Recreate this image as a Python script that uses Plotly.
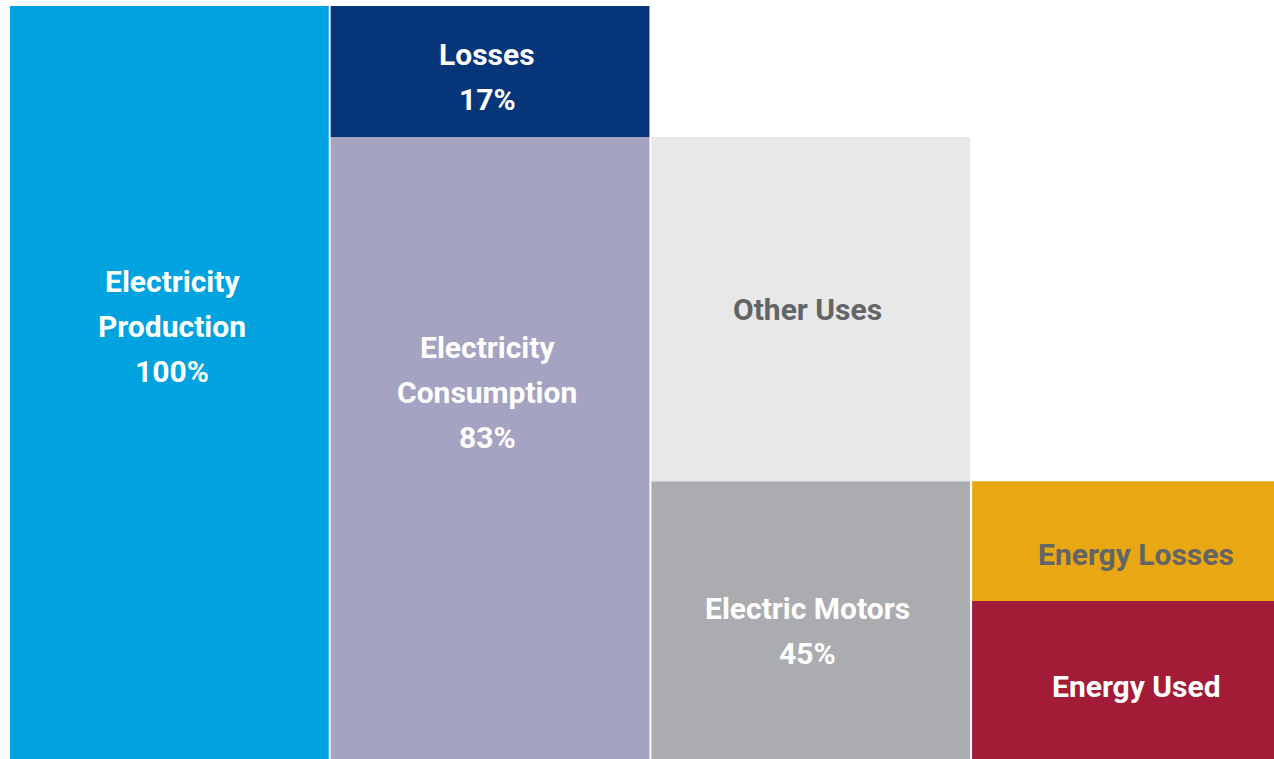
import plotly.graph_objects as go

# Data
names = ["Electricity Production", "Electricity Consumption", "Losses",
         "Electric Motors", "Other Uses", "Energy Used", "Energy Losses"]
cols = [0, 1, 1, 2, 2, 3, 3]
values = [100, 82.6, 17.4, 36.9, 45.7, 21.0, 15.9]
labels = [
    "Electricity<br>Production<br>100%",
    "Electricity<br>Consumption<br>83%",
    "Losses<br>17%",
    "Electric Motors<br>45%",
    "Other Uses",
    "Energy Used",
    "Energy Losses",
]

# Styles
colors = ["#00A3E0", "#A4A3C1", "#06357A", "#ABACAF", "#E8E8E8", "#A21C38", "#E8A713"]
text_colors = ["white", "white", "white", "white", "#636466", "white", "#636466"]
label_frac = [0.575, 0.59, 0.46, 0.46, 0.5, 0.46, 0.39]
label_dx = [3, -3, -3, -3, -3, 5, 5]
FONT = "Roboto, Liberation Sans Narrow, Arial Narrow, sans-serif"
LINE_GAP = 45

fig = go.Figure()
bases = {}
for i, (name, c, v) in enumerate(zip(names, cols, values)):
    b = bases.get(c, 0)
    fig.add_trace(go.Bar(
        x=[c], y=[v], base=[b], name=name,
        marker=dict(color=colors[i], line=dict(width=0)),
        width=0.994, showlegend=False, hoverinfo="name+y",
    ))
    lines = labels[i].split("<br>")
    n = len(lines)
    for k, line in enumerate(lines):
        fig.add_annotation(
            x=c, y=b + v * label_frac[i], text=line, showarrow=False,
            xshift=label_dx[i], yshift=-(k - (n - 1) / 2) * LINE_GAP,
            font=dict(family=FONT, size=30, color=text_colors[i], weight="bold"),
            align="center",
        )
    bases[c] = b + v

pitch = 320.7
left = 9
W, H = 1274, 759
plot_w = W - left
fig.update_layout(
    width=W, height=H,
    margin=dict(l=left, r=0, t=0, b=0),
    barmode="overlay",
    paper_bgcolor="white", plot_bgcolor="white",
    xaxis=dict(range=[-0.5, -0.5 + plot_w / pitch], visible=False, fixedrange=True),
    yaxis=dict(range=[0, 100.8], visible=False, fixedrange=True),
)

fig.write_html(
    "out.html",
    config={"displayModeBar": False},
    post_script="document.body.style.margin='0';document.body.style.overflow='hidden';",
)
